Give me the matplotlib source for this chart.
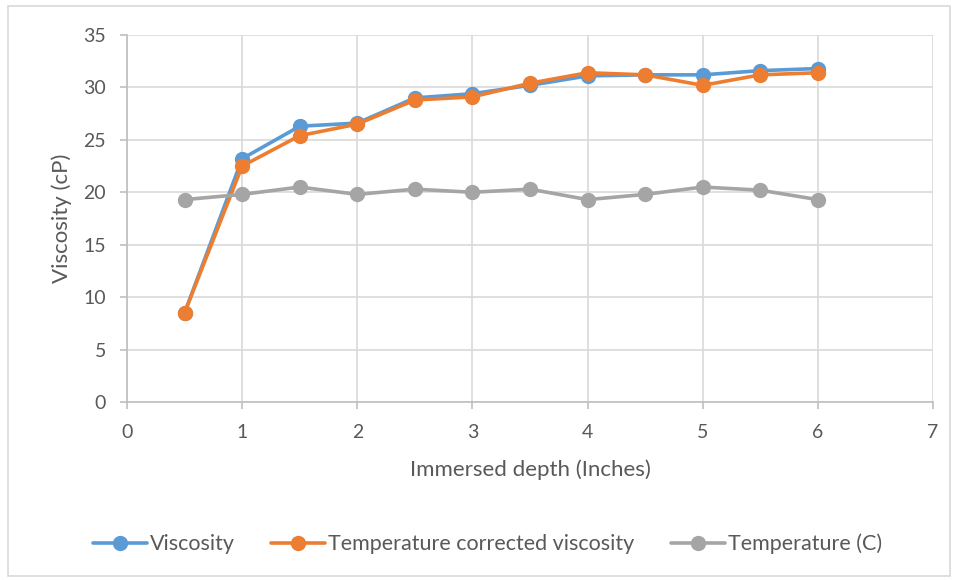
import matplotlib
matplotlib.use("Agg")
import matplotlib.pyplot as plt
from matplotlib.patches import Rectangle

plt.rcParams['font.family'] = ['Lato', 'DejaVu Sans']

# depth readings (inches) and the three measured series
depth = [0.5, 1, 1.5, 2, 2.5, 3, 3.5, 4, 4.5, 5, 5.5, 6]
viscosity = [8.5, 23.2, 26.3, 26.6, 29.0, 29.4, 30.2, 31.1, 31.2, 31.2, 31.6, 31.8]
corrected = [8.5, 22.5, 25.4, 26.5, 28.8, 29.1, 30.4, 31.4, 31.2, 30.2, 31.2, 31.4]
temperature = [19.3, 19.8, 20.5, 19.8, 20.3, 20.0, 20.3, 19.3, 19.8, 20.5, 20.2, 19.3]

series = [
    ("Viscosity", viscosity, "#5B9BD5"),
    ("Temperature corrected viscosity", corrected, "#ED7D31"),
    ("Temperature (C)", temperature, "#A5A5A5"),
]

text_col = "#595959"
grid_col = "#D9D9D9"

fig = plt.figure(figsize=(9.56, 5.8), dpi=100)
ax = fig.add_axes([127 / 956, 1 - 402 / 580, (933 - 127) / 956, (402 - 35) / 580])

for name, vals, col in series:
    ax.plot(depth, vals, color=col, lw=2.6, marker='o', ms=10, label=name,
            solid_capstyle='round', solid_joinstyle='round')

ax.set_xlim(0, 7)
ax.set_ylim(0, 35)
ax.set_xticks(range(0, 8))
ax.set_yticks(range(0, 36, 5))
ax.grid(True, color=grid_col, lw=1.2)
ax.set_axisbelow(True)

for s in ['top', 'right']:
    ax.spines[s].set_visible(False)
for s in ['left', 'bottom']:
    ax.spines[s].set_color("#BFBFBF")
    ax.spines[s].set_linewidth(1.2)

ax.tick_params(axis='both', colors="#BFBFBF", length=5, width=1.2,
               labelcolor=text_col, labelsize=14, direction='out')
ax.tick_params(axis='x', pad=11)
ax.tick_params(axis='y', pad=10)

ax.set_xlabel("Immersed depth (Inches)", fontsize=16, color=text_col, labelpad=13)
ax.set_ylabel("Viscosity (cP)", fontsize=16, color=text_col, labelpad=8)

fig.legend(loc='center', bbox_to_anchor=(0.51, 1 - 544 / 580), ncol=3,
           frameon=False, fontsize=15.5, labelcolor=text_col,
           handlelength=2.5, handletextpad=0.15, columnspacing=1.7, markerscale=1.0)

# light frame around the whole chart
fig.patches.append(Rectangle((8 / 956, 1 - 576 / 580), 942 / 956, 570 / 580,
                             transform=fig.transFigure, fill=False,
                             edgecolor="#D9D9D9", lw=1.2))

fig.savefig("out.png", dpi=100, facecolor='white')
